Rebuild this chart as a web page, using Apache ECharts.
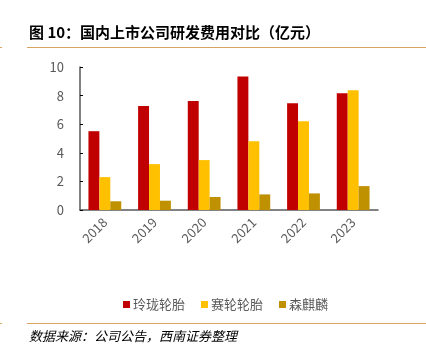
<!DOCTYPE html>
<html><head><meta charset="utf-8">
<script src="https://cdn.jsdelivr.net/npm/echarts@6/dist/echarts.min.js"></script>
<style>html,body{margin:0;padding:0;background:#fff}#c{width:426px;height:356px}</style>
</head><body><div id="c"></div>
<script>
const categories = ['2018','2019','2020','2021','2022','2023'];
const linglong = [5.51, 7.28, 7.63, 9.33, 7.47, 8.16];
const sailun = [2.30, 3.21, 3.49, 4.81, 6.21, 8.37];
const senqilin = [0.61, 0.65, 0.91, 1.09, 1.16, 1.67];
const seriesNames = ['玲珑轮胎','赛轮轮胎','森麒麟'];
const yTicks = [0, 2, 4, 6, 8, 10];
const titleText = '图 10：国内上市公司研发费用对比（亿元）';
const sourceText = '数据来源：公司公告，西南证券整理';

const font = '"Noto Sans CJK SC", "Noto Sans", sans-serif';
const chart = echarts.init(document.getElementById('c'), null, {renderer:'canvas'});
const colors = ['#C00000','#FFC000','#BF9000'];
chart.setOption({
  animation: false,
  textStyle: {fontFamily: font},
  grid: {left: 80, right: 48, top: 67, bottom: 146, containLabel: false},
  legend: {
    data: seriesNames, top: 293, left: 118,
    itemWidth: 7, itemHeight: 7, itemGap: 16, icon: 'rect',
    textStyle: {color: '#595959', fontSize: 13, fontFamily: font, padding: [0,0,0,-2]}
  },
  xAxis: {
    type: 'category', data: categories,
    axisLine: {lineStyle: {color: '#595959', width: 1.5}},
    axisTick: {inside: true, length: 4, lineStyle: {color: '#000'}},
    axisLabel: {rotate: 45, color: '#595959', fontSize: 13, margin: 10, fontFamily: font}
  },
  yAxis: {
    type: 'value', min: yTicks[0], max: yTicks[yTicks.length-1], interval: 2,
    axisLine: {show: true, lineStyle: {color: '#595959', width: 1.5}},
    axisTick: {show: true, inside: true, length: 3, lineStyle: {color: '#000'}},
    splitLine: {show: false},
    axisLabel: {color: '#595959', fontSize: 13, margin: 16, fontFamily: font}
  },
  series: [
    {name: seriesNames[0], type: 'bar', data: linglong, itemStyle: {color: colors[0]}, barGap: '0%', barCategoryGap: '34%'},
    {name: seriesNames[1], type: 'bar', data: sailun, itemStyle: {color: colors[1]}},
    {name: seriesNames[2], type: 'bar', data: senqilin, itemStyle: {color: colors[2]}}
  ],
  graphic: [
    {type: 'text', left: 29, top: 25, style: {text: titleText, font: 'bold 15px ' + font, fill: '#000'}},
    {type: 'line', shape: {x1: 27, y1: 47.5, x2: 426, y2: 47.5}, style: {stroke: '#D9A460', lineWidth: 1.2}},
    {type: 'line', shape: {x1: 0, y1: 47.5, x2: 2, y2: 47.5}, style: {stroke: '#D9A460', lineWidth: 1.2}},
    {type: 'line', shape: {x1: 27, y1: 323.5, x2: 426, y2: 323.5}, style: {stroke: '#D9A460', lineWidth: 1.2}},
    {type: 'line', shape: {x1: 0, y1: 323.5, x2: 2, y2: 323.5}, style: {stroke: '#D9A460', lineWidth: 1.2}},
    {type: 'text', left: 29, top: 330, style: {text: sourceText, font: 'italic 13px ' + font, fill: '#000'}}
  ]
});
</script></body></html>
